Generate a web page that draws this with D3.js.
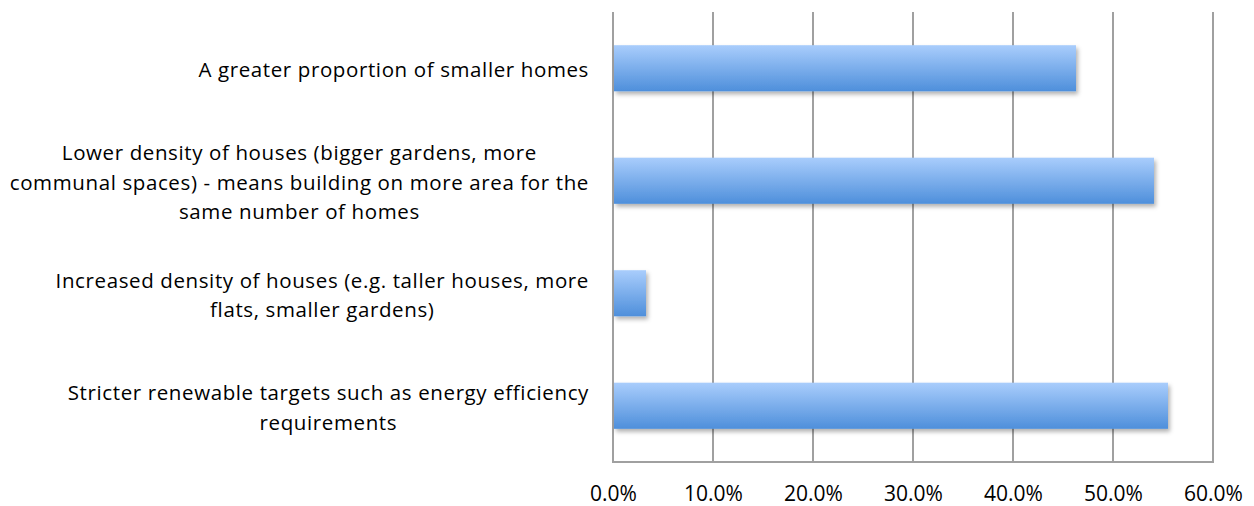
<!DOCTYPE html>
<html>
<head>
<meta charset="utf-8">
<script src="https://cdn.jsdelivr.net/npm/d3@7"></script>
<style>
  html, body { margin: 0; padding: 0; background: #fff; }
  svg { display: block; }
</style>
</head>
<body>
<svg id="chart" width="1254" height="506"></svg>
<script>
// ---- data ----
const categories = [
  "A greater proportion of smaller homes",
  "Lower density of houses (bigger gardens, more\ncommunal spaces) - means building on more area for the\nsame number of homes",
  "Increased density of houses (e.g. taller houses, more\nflats, smaller gardens)",
  "Stricter renewable targets such as energy efficiency\nrequirements"
];
const values = [0.463, 0.541, 0.033, 0.555];
const tickValues = [0, 0.1, 0.2, 0.3, 0.4, 0.5, 0.6];

// ---- layout ----
const svg = d3.select("#chart");
const plot = { left: 613, right: 1213, top: 12, bottom: 462 };
const labelRight = 589;
const gridColor = "#a0a0a0";
const fontFamily = "'Open Sans', Lato, sans-serif";

const x = d3.scaleLinear().domain([0, 0.6]).range([plot.left, plot.right]);
const y = d3.scaleBand().domain(categories).range([plot.top, plot.bottom])
  .paddingInner(0.59).paddingOuter(0.295);

const defs = svg.append("defs");
const grad = defs.append("linearGradient").attr("id", "barGrad")
  .attr("x1", 0).attr("y1", 0).attr("x2", 0).attr("y2", 1);
grad.append("stop").attr("offset", "0%").attr("stop-color", "#a9cdfc");
grad.append("stop").attr("offset", "100%").attr("stop-color", "#4e8fdb");
const filt = defs.append("filter").attr("id", "shadow")
  .attr("x", "-10%").attr("y", "-20%").attr("width", "130%").attr("height", "160%");
filt.append("feDropShadow").attr("dx", 2).attr("dy", 3).attr("stdDeviation", 2)
  .attr("flood-color", "#000").attr("flood-opacity", 0.3);

// gridlines
svg.append("g").selectAll("line").data(tickValues).join("line")
  .attr("x1", d => x(d)).attr("x2", d => x(d))
  .attr("y1", plot.top).attr("y2", plot.bottom)
  .attr("stroke", gridColor).attr("stroke-width", 2);
svg.append("line")
  .attr("x1", plot.left - 1).attr("x2", plot.right + 1)
  .attr("y1", plot.bottom).attr("y2", plot.bottom)
  .attr("stroke", gridColor).attr("stroke-width", 2);

// bars
svg.append("g").selectAll("rect").data(categories).join("rect")
  .attr("x", x(0) + 1)
  .attr("y", d => y(d))
  .attr("width", (d, i) => x(values[i]) - x(0) - 1)
  .attr("height", y.bandwidth())
  .attr("fill", "url(#barGrad)")
  .attr("filter", "url(#shadow)");

// x axis tick labels
const xAxis = d3.axisBottom(x).tickValues(tickValues).tickFormat(d3.format(".1%")).tickSize(0).tickPadding(0);
const gx = svg.append("g").attr("transform", `translate(0,${plot.bottom})`).call(xAxis);
gx.select(".domain").remove();
gx.selectAll("text")
  .attr("y", 39).attr("dy", null)
  .attr("font-family", fontFamily).attr("font-size", 21).attr("fill", "#000");

// category labels (block right-aligned, lines centred within block)
const lineH = 29.5;
const gl = svg.append("g").attr("font-family", fontFamily).attr("font-size", 20.5).attr("fill", "#000");
// calibrate letter spacing so the reference line width matches the original rendering
const probe = gl.append("text").text(categories[0]);
const natural = probe.node().getComputedTextLength();
probe.remove();
const spacing = (390 - natural) / (categories[0].length - 1);
gl.attr("letter-spacing", spacing);
categories.forEach((c, i) => {
  const lines = c.split("\n");
  const g = gl.append("g");
  const texts = lines.map((ln, k) => g.append("text")
    .attr("y", y(c) + y.bandwidth() / 2 + 9 + (k - (lines.length - 1) / 2) * lineH)
    .attr("text-anchor", "middle")
    .text(ln));
  const maxW = d3.max(texts, t => t.node().getComputedTextLength());
  texts.forEach(t => t.attr("x", labelRight - maxW / 2));
});
</script>
</body>
</html>
